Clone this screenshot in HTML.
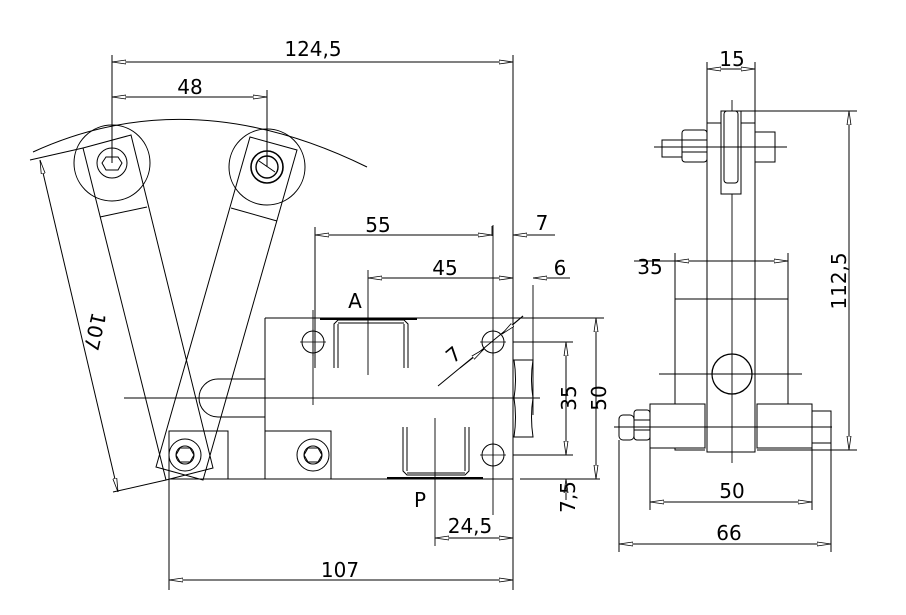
<!DOCTYPE html>
<html><head><meta charset="utf-8"><style>
html,body{margin:0;padding:0;background:#fff;}
svg{display:block;}
text{font-family:"DejaVu Sans","Liberation Sans",sans-serif;font-size:20px;fill:#000;}
</style></head><body>
<svg width="906" height="615" viewBox="0 0 906 615" xmlns="http://www.w3.org/2000/svg">
<defs>
<marker id="a" viewBox="0 0 14 6" refX="14" refY="3" markerWidth="14" markerHeight="6" orient="auto-start-reverse" markerUnits="userSpaceOnUse">
<path d="M0,1 L14,3 L0,5 Z" fill="#fff" stroke="#000" stroke-width="0.8"/>
</marker>
</defs>
<g fill="none" stroke="#000" stroke-width="1">
<!-- top arc -->
<path d="M33,152 Q190,80 367,167"/>
<!-- rollers -->
<circle cx="112" cy="163" r="38"/><circle cx="112" cy="163" r="15"/>
<polygon points="106,157 118,157 122,163 118,170 106,170 102,163"/>
<circle cx="267" cy="167" r="38"/><circle cx="267" cy="167" r="16" stroke-width="1.6"/><circle cx="267" cy="167" r="11" stroke-width="1.4"/>
<line x1="259" y1="161" x2="275" y2="172"/>
<!-- arms -->
<polygon points="83,148 131,135 213,468 166,480"/>
<line x1="100" y1="217" x2="147" y2="207"/>
<polygon points="250,137 297,150 203,480 156,467"/>
<line x1="231" y1="208" x2="277" y2="221"/>
<!-- slot -->
<path d="M265,379 H218 A19,19 0 0 0 218,417 H265"/>
<!-- bottom blocks -->
<rect x="169" y="431" width="59" height="48"/>
<circle cx="185" cy="455" r="16"/><circle cx="185" cy="455" r="9"/>
<polygon points="180,448 190,448 194,455 190,462 180,462 176,455"/>
<rect x="265" y="431" width="66" height="48"/>
<circle cx="313" cy="455" r="16"/><circle cx="313" cy="455" r="9"/>
<polygon points="308,448 318,448 322,455 318,462 308,462 304,455"/>
<line x1="169" y1="479" x2="513" y2="479"/>
<!-- body -->
<line x1="265" y1="318" x2="265" y2="479"/>
<line x1="265" y1="318" x2="604" y2="318"/>
<line x1="513" y1="318" x2="513" y2="590"/>
<line x1="124" y1="398" x2="540" y2="398"/>
<circle cx="313" cy="342" r="11"/><circle cx="493" cy="342" r="11"/><circle cx="493" cy="455" r="11"/>
<path d="M300,342h26M313,329v27M480,342h26M493,329v27M480,455h26M493,442v27" stroke-width="0.8"/>
<!-- A port -->
<line x1="320" y1="319" x2="417" y2="319" stroke-width="2"/>
<path d="M334,368V324l4,-4h66l4,4v44M338,368V324M404,324v44"/>
<line x1="338" y1="323" x2="404" y2="323"/>
<!-- P port -->
<line x1="387" y1="478" x2="483" y2="478" stroke-width="2"/>
<path d="M403,427v44l4,4h58l4,-4v-44M407,427v44M465,427v44"/>
<line x1="407" y1="473" x2="465" y2="473"/>
<!-- nut -->
<path d="M514,360h19q-3,19 0,38q-3,19 0,39h-19q3,-20 0,-39q3,-19 0,-38z"/>
<!-- center lines -->
<path d="M313,310v95M368,270v105M435,418v128M493,225v290M533,285v130M492,226v10" stroke-width="0.9"/>
<path d="M513,342h60M513,455h60M520,479h80" stroke-width="0.9"/>
<!-- dims left view -->
<line x1="112" y1="55" x2="112" y2="163"/>
<line x1="513" y1="55" x2="513" y2="318"/>
<line x1="267" y1="90" x2="267" y2="167"/>
<line x1="112" y1="62" x2="513" y2="62" marker-start="url(#a)" marker-end="url(#a)"/>
<line x1="112" y1="97" x2="267" y2="97" marker-start="url(#a)" marker-end="url(#a)"/>
<line x1="315" y1="227" x2="315" y2="368"/>
<line x1="315" y1="235" x2="492" y2="235" marker-start="url(#a)" marker-end="url(#a)"/>
<line x1="513" y1="235" x2="555" y2="235" marker-start="url(#a)"/>
<line x1="368" y1="278" x2="492" y2="278" marker-start="url(#a)"/>
<line x1="492" y1="278" x2="513" y2="278" marker-end="url(#a)"/>
<line x1="533" y1="278" x2="570" y2="278" marker-start="url(#a)"/>
<line x1="438" y1="386" x2="523" y2="316"/>
<line x1="460" y1="368" x2="484" y2="349" marker-end="url(#a)"/>
<line x1="523" y1="316" x2="502" y2="334" marker-end="url(#a)"/>
<line x1="596" y1="318" x2="596" y2="479" marker-start="url(#a)" marker-end="url(#a)"/>
<line x1="566" y1="342" x2="566" y2="455" marker-start="url(#a)" marker-end="url(#a)"/>
<line x1="566" y1="479" x2="566" y2="500" marker-start="url(#a)"/>
<line x1="435" y1="538" x2="513" y2="538" marker-start="url(#a)" marker-end="url(#a)"/>
<line x1="169" y1="455" x2="169" y2="590"/>
<line x1="169" y1="580" x2="513" y2="580" marker-start="url(#a)" marker-end="url(#a)"/>
<line x1="30" y1="160" x2="83" y2="148"/>
<line x1="113" y1="492" x2="166" y2="480"/>
<line x1="40" y1="160" x2="118" y2="492" marker-start="url(#a)" marker-end="url(#a)"/>
<!-- right view -->
<line x1="732" y1="100" x2="732" y2="463" stroke-width="0.9"/>
<rect x="707" y="123" width="48" height="329"/>
<rect x="721" y="111" width="20" height="83" fill="#fff"/>
<rect x="724" y="111" width="14" height="72" rx="3"/>
<rect x="682" y="130" width="25" height="32" rx="3"/>
<line x1="682" y1="140" x2="707" y2="140"/><line x1="682" y1="152" x2="707" y2="152"/>
<rect x="662" y="140" width="20" height="17"/>
<rect x="755" y="132" width="20" height="30"/>
<line x1="654" y1="147" x2="787" y2="147" stroke-width="0.9"/>
<line x1="707" y1="69" x2="755" y2="69" marker-start="url(#a)" marker-end="url(#a)"/>
<line x1="707" y1="62" x2="707" y2="123"/><line x1="755" y1="62" x2="755" y2="123"/>
<line x1="740" y1="111" x2="857" y2="111"/><line x1="812" y1="450" x2="857" y2="450"/>
<line x1="849" y1="111" x2="849" y2="450" marker-start="url(#a)" marker-end="url(#a)"/>
<line x1="675" y1="253" x2="675" y2="404"/><line x1="788" y1="253" x2="788" y2="404"/>
<line x1="634" y1="261" x2="788" y2="261"/>
<line x1="675" y1="261" x2="788" y2="261" marker-start="url(#a)" marker-end="url(#a)"/>
<line x1="675" y1="299" x2="788" y2="299"/>
<circle cx="732" cy="374" r="20" stroke-width="1.3"/>
<line x1="659" y1="374" x2="802" y2="374" stroke-width="0.9"/>
<rect x="650" y="404" width="55" height="44"/>
<rect x="757" y="404" width="55" height="44"/>
<path d="M675,448v2h30M757,450h55"/>
<rect x="634" y="410" width="16" height="30" rx="3"/>
<line x1="634" y1="420" x2="650" y2="420"/><line x1="634" y1="430" x2="650" y2="430"/>
<rect x="619" y="415" width="15" height="25" rx="4"/>
<rect x="812" y="411" width="19" height="32"/>
<line x1="614" y1="427" x2="832" y2="427" stroke-width="0.9"/>
<line x1="650" y1="448" x2="650" y2="510"/><line x1="812" y1="448" x2="812" y2="510"/>
<line x1="650" y1="502" x2="812" y2="502" marker-start="url(#a)" marker-end="url(#a)"/>
<line x1="619" y1="440" x2="619" y2="552"/><line x1="831" y1="443" x2="831" y2="552"/>
<line x1="619" y1="544" x2="831" y2="544" marker-start="url(#a)" marker-end="url(#a)"/>
</g>
<g>
<text x="313" y="56" text-anchor="middle">124,5</text>
<text x="190" y="94" text-anchor="middle">48</text>
<text x="378" y="232" text-anchor="middle">55</text>
<text x="542" y="230" text-anchor="middle">7</text>
<text x="445" y="275" text-anchor="middle">45</text>
<text x="560" y="275" text-anchor="middle">6</text>
<text x="355" y="308" text-anchor="middle" font-size="22">A</text>
<text x="420" y="507" text-anchor="middle">P</text>
<text x="470" y="533" text-anchor="middle">24,5</text>
<text x="340" y="577" text-anchor="middle">107</text>
<text transform="translate(458,360) rotate(-40)" text-anchor="middle">7</text>
<text transform="translate(88,330) rotate(103)" text-anchor="middle">107</text>
<text transform="translate(576,398) rotate(-90)" text-anchor="middle">35</text>
<text transform="translate(606,398) rotate(-90)" text-anchor="middle">50</text>
<text transform="translate(575,497) rotate(-90)" text-anchor="middle">7,5</text>
<text x="732" y="66" text-anchor="middle">15</text>
<text x="650" y="274" text-anchor="middle">35</text>
<text transform="translate(846,281) rotate(-90)" text-anchor="middle">112,5</text>
<text x="732" y="498" text-anchor="middle">50</text>
<text x="729" y="540" text-anchor="middle">66</text>
</g>
</svg>
</body></html>
